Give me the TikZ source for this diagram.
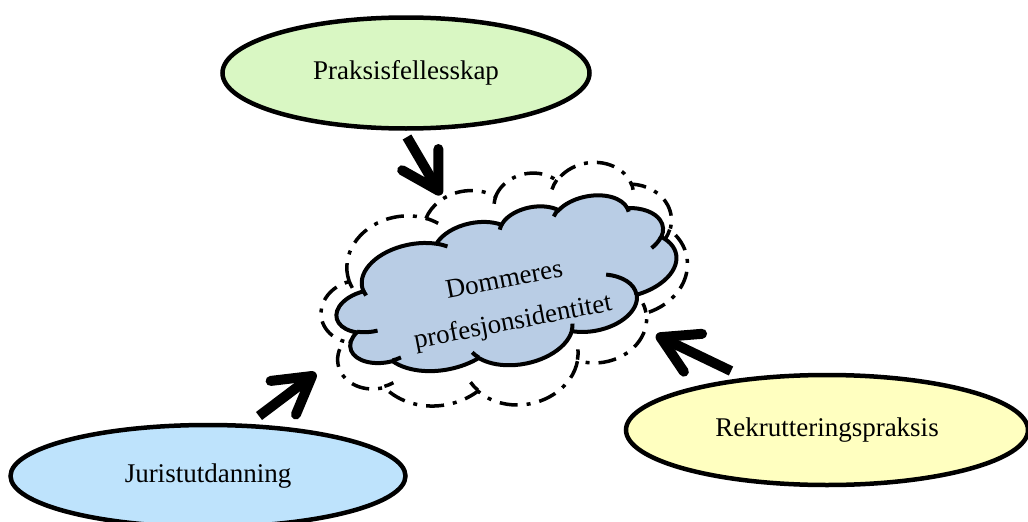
\documentclass[tikz,border=0pt]{standalone}
\usepackage{fontspec}
\setmainfont{Liberation Serif}
\usetikzlibrary{shapes.geometric,arrows.meta}
\definecolor{pgreen}{HTML}{D9F7C3}
\definecolor{pblue}{HTML}{BEE3FC}
\definecolor{pyellow}{HTML}{FFFFC0}
\definecolor{cloudblue}{HTML}{B9CDE5}
\tikzset{
  lbl/.style={font=\fontsize{27}{30}\selectfont, text=black},
  oval/.style={ellipse, draw=black, line width=4.5pt, inner sep=0pt, lbl},
  bigarrow/.style={line width=10pt, -{Straight Barb[length=36pt, width=42pt, round]}},
  cloudline/.style={line width=4pt, draw=black},
  dashcloud/.style={line width=3.5pt, draw=black, dash pattern=on 18pt off 9pt on 4pt off 9pt},
}
% Office-style cloud outline in a 432 x 432 frame (y downwards)
\newcommand{\cloudoutline}[1]{%
  \path[#1] (39.00,143.70)
    arc[start angle=172.255, delta angle=128.10, x radius=67.53, y radius=91.90]
    arc[start angle=-152.04, delta angle=106.61, x radius=53.33, y radius=72.67]
    arc[start angle=-153.49, delta angle=116.15, x radius=43.65, y radius=59.45]
    arc[start angle=-139.71, delta angle=129.50, x radius=48.57, y radius=65.95]
    arc[start angle=-74.77, delta angle=97.98, x radius=53.33, y radius=72.73]
    arc[start angle=-37.52, delta angle=119.38, x radius=67.75, y radius=92.20]
    arc[start angle=0.46, delta angle=121.52, x radius=57.85, y radius=78.67]
    arc[start angle=16.85, delta angle=129.36, x radius=67.52, y radius=92.15]
    arc[start angle=58.98, delta angle=91.21, x radius=77.20, y radius=105.43]
    arc[start angle=83.31, delta angle=139.77, x radius=43.60, y radius=59.18]
    arc[start angle=120.37, delta angle=143.74, x radius=43.45, y radius=59.45]
    -- cycle;}
\newcommand{\cloudinside}[1]{%
  \path[#1]
    (46.93,261.77) arc[start angle=85.55, delta angle=34.82, x radius=43.45, y radius=59.45]
    (69.28,348.99) arc[start angle=68.23, delta angle=15.08, x radius=43.60, y radius=59.18]
    (164.78,390.90) arc[start angle=146.21, delta angle=12.27, x radius=67.52, y radius=92.15]
    (288.27,347.51) arc[start angle=4.74, delta angle=12.11, x radius=67.52, y radius=92.15]
    (341.29,229.54) arc[start angle=-64.03, delta angle=64.49, x radius=57.85, y radius=78.67]
    (417.98,153.54) arc[start angle=23.21, delta angle=26.45, x radius=53.33, y radius=72.73]
    (383.24,54.26) arc[start angle=-10.21, delta angle=11.03, x radius=48.57, y radius=65.95]
    (290.78,39.52) arc[start angle=-156.29, delta angle=16.58, x radius=48.57, y radius=65.95]
    (221.41,47.20) arc[start angle=-167.73, delta angle=14.24, x radius=43.65, y radius=59.45]
    (140.00,51.92) arc[start angle=-59.64, delta angle=13.90, x radius=67.53, y radius=91.90]
    (41.27,157.89) arc[start angle=163.20, delta angle=9.06, x radius=67.53, y radius=91.90];}
\begin{document}
\begin{tikzpicture}[x=1pt, y=-1pt]
\useasboundingbox (0,0) rectangle (1028,522);
\clip (0,0) rectangle (1028,522);
\fill[white] (0,0) rectangle (1028,522);

% ellipses
\node[oval, fill=pgreen, minimum width=367pt, minimum height=111pt] (prak) at (406,73) {Praksisfellesskap};
\node[oval, fill=pblue, minimum width=395pt, minimum height=102pt] (jur) at (208,476) {Juristutdanning};
\node[oval, fill=pyellow, minimum width=402pt, minimum height=110pt] (rek) at (827,430) {Rekrutteringspraksis};

% outer dash-dot cloud
\begin{scope}[shift={(505,292)}, rotate=10, x=0.8565pt, y=-0.5260pt, shift={(-216,-216)}]
  \cloudoutline{dashcloud}
  \cloudinside{dashcloud}
\end{scope}

% inner cloud
\begin{scope}[shift={(507,289)}, rotate=11, x=0.7986pt, y=-0.3530pt, shift={(-216,-216)}]
  \cloudoutline{cloudline, fill=cloudblue}
  \cloudinside{cloudline}
\end{scope}

\node[rotate=11, text=black, font=\fontsize{27}{30}\selectfont] (dom1) at (504,279) {Dommeres};
\node[rotate=11, text=black, font=\fontsize{27}{30}\selectfont] (dom2) at (513,323) {profesjonsidentitet};

% arrows
\coordinate (a1s) at (407,137);
\coordinate (a1e) at (441,195);
\coordinate (a2s) at (731,371);
\coordinate (a2e) at (656,335);
\coordinate (a3s) at (259,416);
\coordinate (a3e) at (316,373);
\draw[bigarrow] (a1s) -- (a1e);
\draw[bigarrow] (a2s) -- (a2e);
\draw[bigarrow] (a3s) -- (a3e);
\end{tikzpicture}
\end{document}
